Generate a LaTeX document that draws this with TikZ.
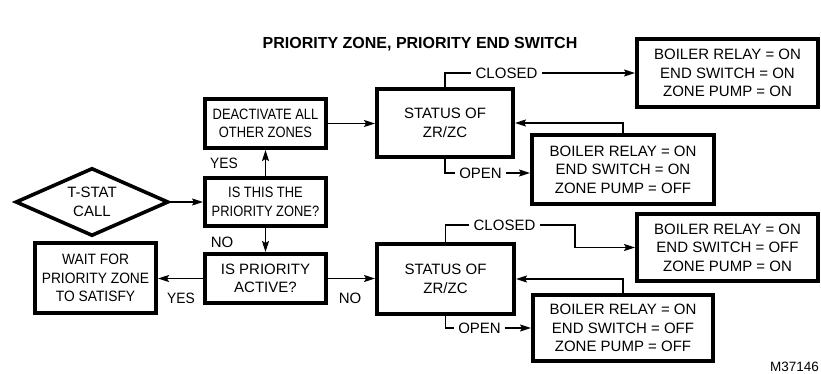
\documentclass[tikz,border=0pt]{standalone}
\usepackage{fontspec}
\setmainfont{Liberation Sans}
\newfontfamily\condA[FakeStretch=0.86]{Liberation Sans}
\newfontfamily\condB[FakeStretch=0.92]{Liberation Sans}
\usetikzlibrary{arrows.meta,shapes.geometric}
\begin{document}
\begin{tikzpicture}[x=1pt,y=-1pt,
  box/.style={draw, line width=3.6pt, inner sep=0pt, align=center, font=\fontsize{15}{18.5}\selectfont},
  conn/.style={line width=1.5pt},
  arr/.style={conn, -{Stealth[length=11pt,width=7pt,inset=2pt]}},
  lbl/.style={font=\fontsize{15}{18}\selectfont, inner xsep=4pt, inner ysep=0pt}]
\useasboundingbox (0,0) rectangle (821,374);

\node[font=\bfseries\fontsize{16}{19}\selectfont] (title) at (420,44) {PRIORITY ZONE, PRIORITY END SWITCH};

\node[box, shape=diamond, aspect=2.2, minimum width=153pt, minimum height=68pt] (tstat) at (92,202) {T-STAT\\CALL};
\node[box, minimum width=121.4pt, minimum height=49.4pt, font=\condA\fontsize{15}{18.5}\selectfont] (deact) at (265.5,123.5) {DEACTIVATE ALL\\OTHER ZONES};
\node[box, minimum width=121.4pt, minimum height=48.4pt, font=\condA\fontsize{15}{18.5}\selectfont] (isthis) at (265.5,202) {IS THIS THE\\PRIORITY ZONE?};
\node[box, minimum width=121.4pt, minimum height=49.4pt] (isprior) at (265.5,278.5) {IS PRIORITY\\ACTIVE?};
\node[box, minimum width=121.4pt, minimum height=70.4pt, font=\condB\fontsize{15}{18.5}\selectfont] (wait) at (95.5,278) {WAIT FOR\\PRIORITY ZONE\\TO SATISFY};
\node[box, minimum width=136.4pt, minimum height=68.4pt] (s1) at (445,123) {STATUS OF\\ZR/ZC};
\node[box, minimum width=137.4pt, minimum height=70.4pt] (s2) at (445.5,279) {STATUS OF\\ZR/ZC};
\node[box, minimum width=181.4pt, minimum height=68.4pt] (r1) at (727.5,73) {BOILER RELAY = ON\\END SWITCH = ON\\ZONE PUMP = ON};
\node[box, minimum width=182.4pt, minimum height=68.4pt] (r2) at (623,169.5) {BOILER RELAY = ON\\END SWITCH = ON\\ZONE PUMP = OFF};
\node[box, minimum width=181.4pt, minimum height=67.4pt] (r3) at (727.5,247.5) {BOILER RELAY = ON\\END SWITCH = OFF\\ZONE PUMP = ON};
\node[box, minimum width=180.4pt, minimum height=66.4pt] (r4) at (623,328) {BOILER RELAY = ON\\END SWITCH = OFF\\ZONE PUMP = OFF};

% labels
\node[lbl, font=\condB\fontsize{15}{18}\selectfont] (yes1) at (224,163) {YES};
\node[lbl] (no1) at (222,242) {NO};
\node[lbl, font=\condB\fontsize{15}{18}\selectfont] (yes2) at (181,298) {YES};
\node[lbl] (no2) at (350,298) {NO};
\node[lbl] (cl1) at (506.5,73) {CLOSED};
\node[lbl] (op1) at (480.5,173) {OPEN};
\node[lbl] (cl2) at (504.5,225) {CLOSED};
\node[lbl] (op2) at (479.5,328) {OPEN};
\node[font=\fontsize{13.5}{16}\selectfont, inner sep=0pt] (code) at (794.5,367) {M37146};

\coordinate (k2) at (575,247.5);

% connectors
\draw[arr] (tstat.east) -- (tstat.east -| isthis.west);
\draw[arr] (isthis.north) -- (deact.south);
\draw[arr] (isthis.south) -- (isprior.north);
\draw[arr] (isprior.west) -- (isprior.west -| wait.east);
\draw[arr] (isprior.east) -- (isprior.east -| s2.west);
\draw[arr] (deact.east) -- (deact.east -| s1.west);

\draw[conn] (s1.north) |- (cl1.west);
\draw[arr] (cl1.east) -- (cl1.east -| r1.west);
\draw[arr] (r2.north) |- (s1.east);
\draw[conn] (s1.south) |- (op1.west);
\draw[arr] (op1.east) -- (op1.east -| r2.west);

\draw[conn] (s2.north) |- (cl2.west);
\draw[arr] (cl2.east) -| (k2) -- (r3.west);
\draw[arr] (r4.north) |- (s2.east);
\draw[conn] (s2.south) |- (op2.west);
\draw[arr] (op2.east) -- (op2.east -| r4.west);
\end{tikzpicture}
\end{document}
